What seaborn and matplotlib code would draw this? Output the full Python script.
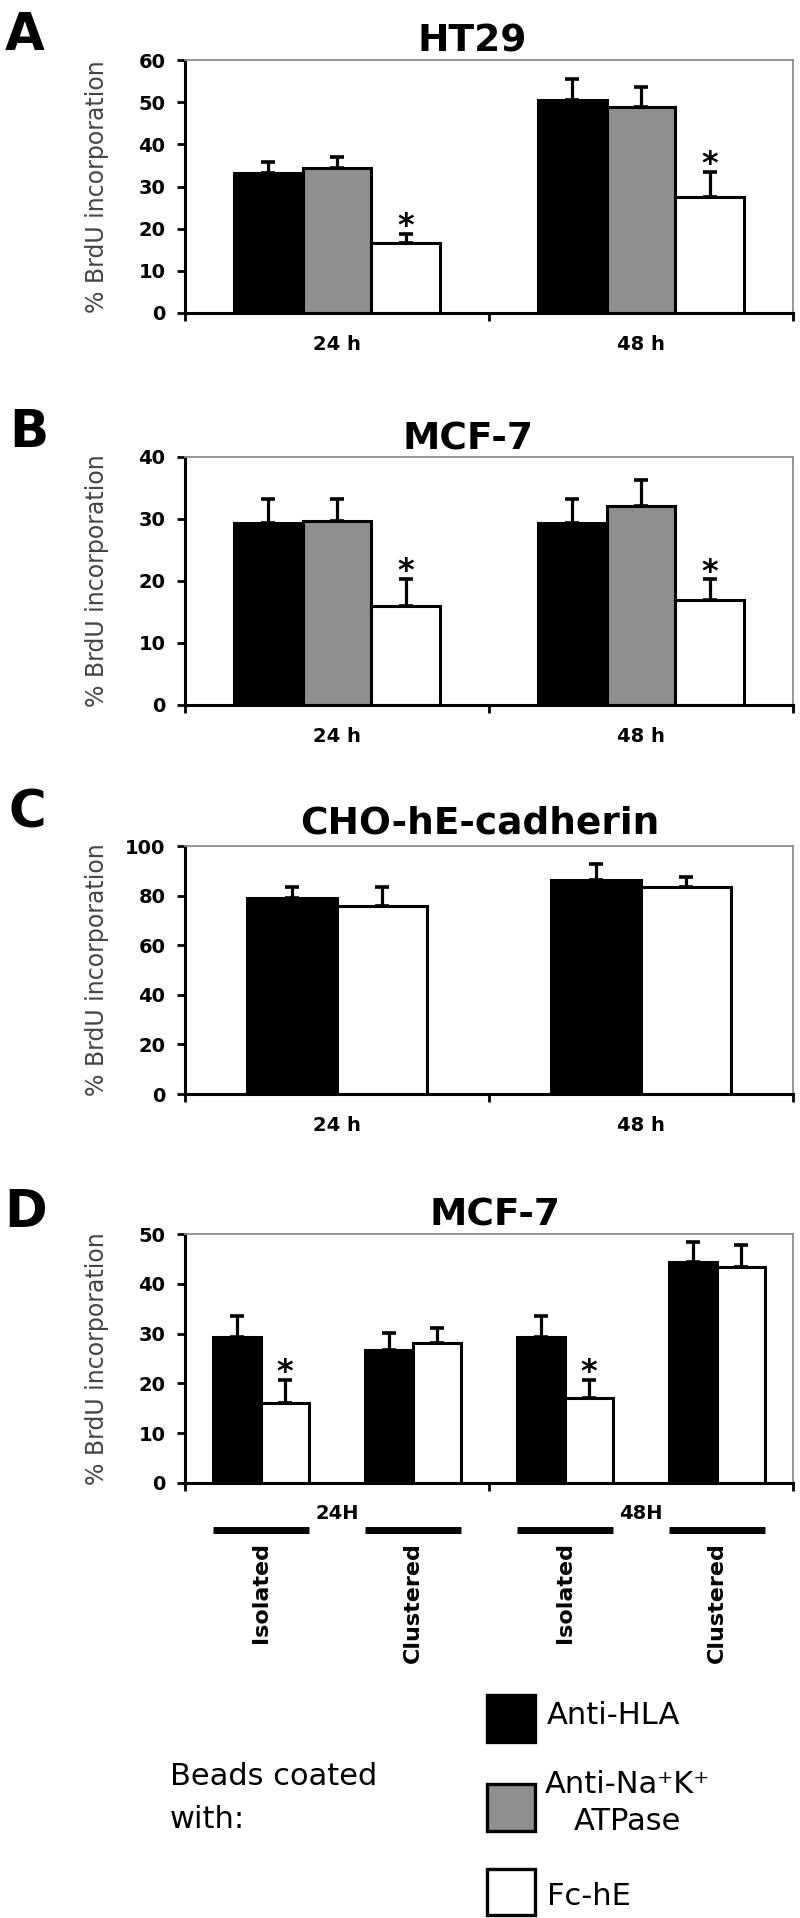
import numpy as np
import pandas as pd
import matplotlib
matplotlib.use("Agg")
import matplotlib.pyplot as plt
import matplotlib.colors as mcolors
import matplotlib.transforms as mtransforms
from matplotlib.patches import Rectangle
import seaborn as sns

# ---------------- data ----------------
times = ["24 h", "48 h"]
treatments = ["Anti-HLA", "Anti-Na⁺K⁺ ATPase", "Fc-hE"]

# Panel A: HT29
ht29_hla = [33.2, 50.5]
ht29_hla_err = [2.5, 5.1]
ht29_nak = [34.5, 48.8]
ht29_nak_err = [2.4, 4.7]
ht29_fc = [16.6, 27.5]
ht29_fc_err = [2.2, 6.0]
ht29_fc_sig = [True, True]

# Panel B: MCF-7
mcf_hla = [29.3, 29.3]
mcf_hla_err = [3.9, 4.0]
mcf_nak = [29.6, 32.1]
mcf_nak_err = [3.6, 4.2]
mcf_fc = [15.9, 17.0]
mcf_fc_err = [4.5, 3.3]
mcf_fc_sig = [True, True]

# Panel C: CHO-hE-cadherin
cho_hla = [78.9, 86.2]
cho_hla_err = [4.4, 6.4]
cho_fc = [75.9, 83.3]
cho_fc_err = [7.7, 4.4]

# Panel D: MCF-7 isolated / clustered
d_times = ["24H", "48H"]
d_beads = ["Isolated", "Clustered", "Isolated", "Clustered"]
d_groups = ["24H Isolated", "24H Clustered", "48H Isolated", "48H Clustered"]
d_hla = [29.4, 26.7, 29.4, 44.3]
d_hla_err = [4.2, 3.5, 4.2, 4.0]
d_fc = [16.0, 28.2, 17.0, 43.3]
d_fc_err = [4.7, 3.0, 3.7, 4.4]
d_fc_sig = [True, False, True, False]

palette = {"Anti-HLA": "#000000", "Anti-Na⁺K⁺ ATPase": "#8f8f8f", "Fc-hE": "#ffffff"}
color_to_treat = {mcolors.to_hex(c): t for t, c in palette.items()}


def make_df(groups, series):
    rows = []
    for name, (vals, errs, sig) in series.items():
        for g, v, e, s in zip(groups, vals, errs, sig):
            rows.append(dict(group=g, treatment=name, value=v, err=e, sig=s))
    return pd.DataFrame(rows)


no = [False, False]
df_a = make_df(times, {"Anti-HLA": (ht29_hla, ht29_hla_err, no),
                       "Anti-Na⁺K⁺ ATPase": (ht29_nak, ht29_nak_err, no),
                       "Fc-hE": (ht29_fc, ht29_fc_err, ht29_fc_sig)})
df_b = make_df(times, {"Anti-HLA": (mcf_hla, mcf_hla_err, no),
                       "Anti-Na⁺K⁺ ATPase": (mcf_nak, mcf_nak_err, no),
                       "Fc-hE": (mcf_fc, mcf_fc_err, mcf_fc_sig)})
df_c = make_df(times, {"Anti-HLA": (cho_hla, cho_hla_err, no),
                       "Fc-hE": (cho_fc, cho_fc_err, no)})
df_d = make_df(d_groups, {"Anti-HLA": (d_hla, d_hla_err, [False] * 4),
                          "Fc-hE": (d_fc, d_fc_err, d_fc_sig)})

# ---------------- style ----------------
sns.set_style("ticks")
plt.rcParams["font.family"] = ["DejaVu Sans"]
plt.rcParams["text.color"] = "black"
plt.rcParams["axes.labelcolor"] = "black"
plt.rcParams["xtick.color"] = "black"
plt.rcParams["ytick.color"] = "black"

W, H = 800, 1918
fig = plt.figure(figsize=(W / 100, H / 100), dpi=100)
fig.patch.set_facecolor("white")


def rect(top, bottom, left=185, right=793):
    return [left / W, 1 - bottom / H, (right - left) / W, (bottom - top) / H]


def draw_panel(ax, df, order, hue_order, width, ymax, step):
    sns.barplot(data=df, x="group", y="value", hue="treatment", order=order,
                hue_order=hue_order, palette=palette, width=width, saturation=1,
                edgecolor="black", linewidth=2.2, errorbar=None, legend=False, ax=ax)
    bars = list(ax.patches)
    for p in bars:
        tr = color_to_treat[mcolors.to_hex(p.get_facecolor())]
        xc = p.get_x() + p.get_width() / 2
        gi = int(round(xc))
        row = df[(df.group == order[gi]) & (df.treatment == tr)].iloc[0]
        ax.errorbar(xc, row.value, yerr=[[0], [row.err]], fmt="none", ecolor="black",
                    elinewidth=2.3, capsize=5, capthick=2.6, zorder=3)
        if row.sig:
            ax.annotate("*", xy=(xc, row.value + row.err), xytext=(0, -1),
                        textcoords="offset points", ha="center", va="baseline",
                        fontsize=23, fontweight="bold", color="black")
    ax.set_ylim(0, ymax)
    ax.set_yticks(np.arange(0, ymax + step / 2, step))
    ax.set_xlim(-0.5, len(order) - 0.5)
    ax.set_xlabel("")
    ax.set_ylabel("% BrdU incorporation", fontsize=17, color="#444444")
    ax.yaxis.set_label_coords(-0.125, 0.5)
    for s in ["left", "bottom"]:
        ax.spines[s].set_color("black")
        ax.spines[s].set_linewidth(2.2)
    for s in ["top", "right"]:
        ax.spines[s].set_visible(True)
        ax.spines[s].set_color("#8c8c8c")
        ax.spines[s].set_linewidth(1.3)
    ax.tick_params(axis="y", which="major", left=True, direction="out", length=6,
                   width=2, pad=8, labelsize=14, colors="black")
    for t in ax.get_yticklabels():
        t.set_fontweight("bold")
    ax.grid(False)
    return bars


def set_x(ax, boundaries, centers, labels, pad=16):
    ax.set_xticks(boundaries)
    ax.set_xticklabels([""] * len(boundaries))
    ax.set_xticks(centers, minor=True)
    ax.set_xticklabels(labels, minor=True, fontsize=14, fontweight="bold", color="black")
    ax.tick_params(axis="x", which="major", bottom=True, direction="out", length=6,
                   width=2, colors="black")
    ax.tick_params(axis="x", which="minor", bottom=True, length=0, pad=pad)


# panel layout (pixel rows)
panels = [
    ("A", "HT29", df_a, times, treatments, 0.68, 60, 10, (60, 313), 472, 52, 25, 50),
    ("B", "MCF-7", df_b, times, treatments, 0.68, 40, 10, (457, 705), 468, 450, 29, 447),
    ("C", "CHO-hE-cadherin", df_c, times, ["Anti-HLA", "Fc-hE"], 0.59, 100, 20, (846, 1094), 480, 833, 27, 827),
    ("D", "MCF-7", df_d, d_groups, ["Anti-HLA", "Fc-hE"], 0.63, 50, 10, (1234, 1483), 495, 1225, 26, 1227),
]

for letter, title, df, order, hue_order, width, ymax, step, (top, bot), tx, tb, lx, lb in panels:
    ax = fig.add_axes(rect(top, bot))
    bars = draw_panel(ax, df, order, hue_order, width, ymax, step)
    fig.text(lx / W, 1 - lb / H, letter, fontsize=37, fontweight="bold",
             ha="center", va="baseline", color="black")
    fig.text(tx / W, 1 - tb / H, title, fontsize=27, fontweight="bold",
             ha="center", va="baseline", color="black")
    if letter != "D":
        n = len(order)
        set_x(ax, np.arange(-0.5, n, 1.0), np.arange(n), order)
    else:
        n_t = len(d_times)
        per = len(order) // n_t
        set_x(ax, np.arange(-0.5, len(order), per),
              np.arange(n_t) * per + (per - 1) / 2, d_times, pad=15)
        trans = mtransforms.blended_transform_factory(ax.transData, ax.transAxes)
        for gi, lab in enumerate(d_beads):
            sel = [p for p in bars if int(round(p.get_x() + p.get_width() / 2)) == gi]
            x0 = min(p.get_x() for p in sel)
            x1 = max(p.get_x() + p.get_width() for p in sel)
            ax.plot([x0, x1], [-0.189, -0.189], transform=trans, clip_on=False,
                    color="black", lw=5, solid_capstyle="butt")
            ax.text((x0 + x1) / 2, -0.237, lab, transform=trans, rotation=90,
                    ha="center", va="top", fontsize=16, fontweight="bold", color="black")

# ---------------- legend ----------------
legend_rows = [("Anti-HLA", 1695, 1742), ("Anti-Na⁺K⁺ ATPase", 1784, 1831), ("Fc-hE", 1869, 1915)]
for name, y0, y1 in legend_rows:
    fig.patches.append(Rectangle((487 / W, 1 - y1 / H), 48 / W, (y1 - y0) / H,
                                 transform=fig.transFigure, facecolor=palette[name],
                                 edgecolor="black", linewidth=2.4))
fig.text(547 / W, 1 - 1724 / H, "Anti-HLA", fontsize=22, va="baseline", ha="left")
fig.text(627 / W, 1 - 1793 / H, "Anti-Na⁺K⁺", fontsize=22, va="baseline", ha="center")
fig.text(627 / W, 1 - 1830 / H, "ATPase", fontsize=22, va="baseline", ha="center")
fig.text(547 / W, 1 - 1905 / H, "Fc-hE", fontsize=22, va="baseline", ha="left")
fig.text(170 / W, 1 - 1785 / H, "Beads coated", fontsize=22, va="baseline", ha="left")
fig.text(170 / W, 1 - 1828 / H, "with:", fontsize=22, va="baseline", ha="left")

fig.savefig("out.png", dpi=100, facecolor="white")
